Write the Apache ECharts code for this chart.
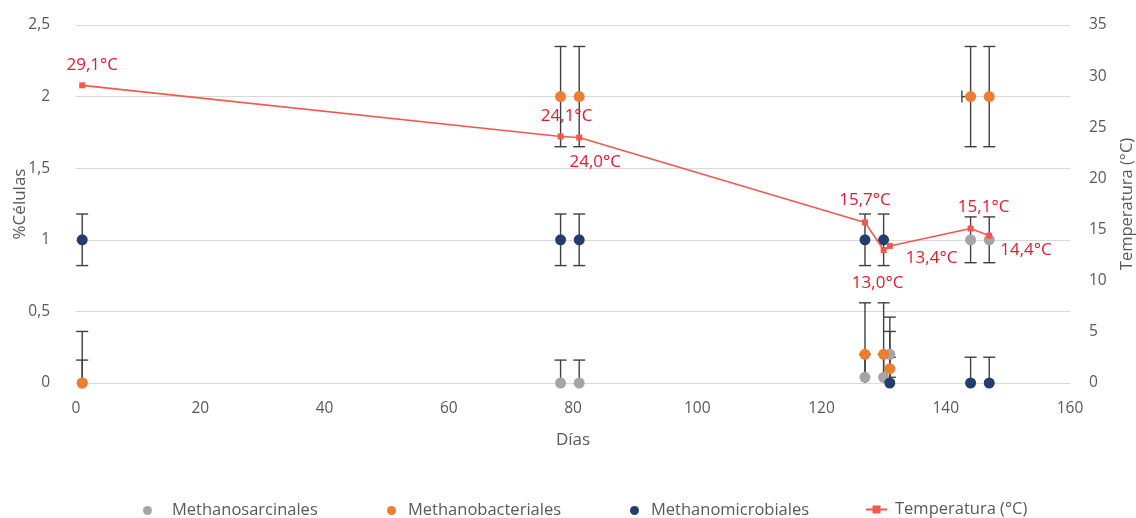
<!DOCTYPE html>
<html>
<head>
<meta charset="utf-8">
<script src="https://cdn.jsdelivr.net/npm/echarts@6/dist/echarts.min.js"></script>
<style>
  html, body { margin: 0; padding: 0; background: #ffffff; }
  #chart { width: 1136px; height: 518px; }
</style>
</head>
<body>
<div id="chart"></div>
<script>
// Sampling days
const dias = [1, 78, 81, 127, 130, 131, 144, 147];

// % of cells per order, with standard deviations
const sarcinales      = [0, 0, 0, 0.04, 0.04, 0.2, 1, 1];
const sarcinalesErr   = [0.16, 0.16, 0.16, 0.16, 0.16, 0.16, 0.16, 0.16];
const bacteriales     = [0, 2, 2, 0.2, 0.2, 0.1, 2, 2];
const bacterialesErr  = [0.36, 0.35, 0.35, 0.36, 0.36, 0.36, 0.35, 0.35];
const bacterialesErrX = [0, 0, 0, 0, 0, 0, 1.4, 0];
const microbiales     = [1, 1, 1, 1, 1, 0, 0, 0];
const microbialesErr  = [0.18, 0.18, 0.18, 0.18, 0.18, 0.18, 0.18, 0.18];

// Temperature (°C)
const temperatura = [29.1, 24.1, 24.0, 15.7, 13.0, 13.4, 15.1, 14.4];

// Axis ticks
const xTicks = { min: 0, max: 160, interval: 20 };
const yLeftTicks = { min: 0, max: 2.5, interval: 0.5 };
const yRightTicks = { min: 0, max: 35, interval: 5 };

const FONT = '"Open Sans", "DejaVu Sans", sans-serif';
const AXIS_TEXT = '#595959';
const GRID_LINE = '#d9d9d9';
const ERR_COLOR = '#404040';
const RED_LINE = '#f2584f';
const RED_TEXT = '#e8192c';

const C_SARC = '#a5a5a5';
const C_BACT = '#ed7d31';
const C_MICRO = '#233e6e';

const comma = v => String(v).replace('.', ',');

// Placement of each temperature label around its point
const tempLabelPlacement = [
  { position: 'top', distance: 9, offset: [10, 0] },
  { position: 'top', distance: 9, offset: [6, 0] },
  { position: 'bottom', distance: 9, offset: [16, 4] },
  { position: 'top', distance: 11, offset: [0, 0] },
  { position: 'bottom', distance: 9, offset: [-6, 13] },
  { position: 'right', distance: 13, offset: [0, 12] },
  { position: 'top', distance: 10, offset: [13, 0] },
  { position: 'right', distance: 8, offset: [0, 14] }
];

function errRows(ys, errs, xerrs) {
  return dias.map((d, i) => [d, ys[i], errs[i], xerrs ? xerrs[i] : 0]);
}

// Error bar drawing: vertical bar with caps, clipped to the left axis range
function renderErrorBar(params, api) {
  const x = api.value(0);
  const y = api.value(1);
  const e = api.value(2);
  const ex = api.value(3);
  const lo = y - e, hi = y + e;
  const yMin = yLeftTicks.min, yMax = yLeftTicks.max;
  const cap = 6;
  const children = [];
  const style = { stroke: ERR_COLOR, lineWidth: 1.4 };
  const loC = Math.max(lo, yMin), hiC = Math.min(hi, yMax);
  const pLo = api.coord([x, loC]);
  const pHi = api.coord([x, hiC]);
  children.push({ type: 'line', shape: { x1: pLo[0], y1: pLo[1], x2: pHi[0], y2: pHi[1] }, style });
  if (hi <= yMax) {
    children.push({ type: 'line', shape: { x1: pHi[0] - cap, y1: pHi[1], x2: pHi[0] + cap, y2: pHi[1] }, style });
  }
  if (lo >= yMin) {
    children.push({ type: 'line', shape: { x1: pLo[0] - cap, y1: pLo[1], x2: pLo[0] + cap, y2: pLo[1] }, style });
  }
  if (ex > 0) {
    const pC = api.coord([x, y]);
    const pL = api.coord([x - ex, y]);
    children.push({ type: 'line', shape: { x1: pL[0], y1: pC[1], x2: pC[0], y2: pC[1] }, style });
    children.push({ type: 'line', shape: { x1: pL[0], y1: pC[1] - cap, x2: pL[0], y2: pC[1] + cap }, style });
  }
  return { type: 'group', children };
}

function errorSeries(ys, errs, xerrs) {
  return {
    type: 'custom',
    xAxisIndex: 0,
    yAxisIndex: 0,
    renderItem: renderErrorBar,
    data: errRows(ys, errs, xerrs),
    z: 1,
    silent: true,
    clip: false,
    encode: { x: 0, y: 1 }
  };
}

function scatterSeries(name, ys, color) {
  return {
    name,
    type: 'scatter',
    yAxisIndex: 0,
    data: dias.map((d, i) => [d, ys[i]]),
    symbol: 'circle',
    symbolSize: 11,
    itemStyle: { color, opacity: 1 },
    z: 2
  };
}

const legendText = { color: AXIS_TEXT, fontFamily: FONT, fontSize: 16.5 };

const option = {
  animation: false,
  backgroundColor: '#ffffff',
  grid: { left: 76, right: 66, top: 25, bottom: 135, containLabel: false, outerBoundsMode: 'none' },
  legend: [
    { data: ['Methanosarcinales'], left: 138, top: 497, icon: 'circle', itemWidth: 9, itemHeight: 9,
      textStyle: Object.assign({ padding: [0, 0, 0, 15] }, legendText) },
    { data: ['Methanobacteriales'], left: 382, top: 497, icon: 'circle', itemWidth: 9, itemHeight: 9,
      textStyle: Object.assign({ padding: [0, 0, 0, 7] }, legendText) },
    { data: ['Methanomicrobiales'], left: 625, top: 497, icon: 'circle', itemWidth: 9, itemHeight: 9,
      textStyle: Object.assign({ padding: [0, 0, 0, 7] }, legendText) },
    { data: ['Temperatura (°C)'], left: 860, top: 496, itemWidth: 21, itemHeight: 10,
      textStyle: Object.assign({ padding: [0, 0, 0, 3] }, legendText) }
  ],
  xAxis: {
    type: 'value',
    min: xTicks.min, max: xTicks.max, interval: xTicks.interval,
    name: 'Días',
    nameLocation: 'middle',
    nameGap: 49,
    nameMoveOverlap: false,
    nameTextStyle: { color: AXIS_TEXT, fontFamily: FONT, fontSize: 17 },
    axisLine: { show: true, lineStyle: { color: GRID_LINE, width: 1 } },
    axisTick: { show: false },
    splitLine: { show: false },
    axisLabel: { color: AXIS_TEXT, fontFamily: FONT, fontSize: 15.5, margin: 18 }
  },
  yAxis: [
    {
      type: 'value',
      min: yLeftTicks.min, max: yLeftTicks.max, interval: yLeftTicks.interval,
      name: '%Células',
      nameLocation: 'middle',
      nameGap: 47,
      nameRotate: 90,
      nameMoveOverlap: false,
      nameTextStyle: { color: AXIS_TEXT, fontFamily: FONT, fontSize: 17 },
      axisLine: { show: false },
      axisTick: { show: false },
      splitLine: { show: true, lineStyle: { color: GRID_LINE, width: 1 } },
      axisLabel: { color: AXIS_TEXT, fontFamily: FONT, fontSize: 15.5, margin: 26, formatter: comma }
    },
    {
      type: 'value',
      position: 'right',
      min: yRightTicks.min, max: yRightTicks.max, interval: yRightTicks.interval,
      name: 'Temperatura (°C)',
      nameLocation: 'middle',
      nameGap: 49,
      nameRotate: 90,
      nameTextStyle: { color: AXIS_TEXT, fontFamily: FONT, fontSize: 16.5 },
      axisLine: { show: false },
      axisTick: { show: false },
      splitLine: { show: false },
      axisLabel: { color: AXIS_TEXT, fontFamily: FONT, fontSize: 15.5, margin: 19 }
    }
  ],
  series: [
    errorSeries(sarcinales, sarcinalesErr),
    errorSeries(bacteriales, bacterialesErr, bacterialesErrX),
    errorSeries(microbiales, microbialesErr),
    scatterSeries('Methanosarcinales', sarcinales, C_SARC),
    scatterSeries('Methanobacteriales', bacteriales, C_BACT),
    scatterSeries('Methanomicrobiales', microbiales, C_MICRO),
    {
      name: 'Temperatura (°C)',
      type: 'line',
      yAxisIndex: 1,
      data: dias.map((d, i) => ({
        value: [d, temperatura[i]],
        label: tempLabelPlacement[i]
      })),
      symbol: 'rect',
      symbolSize: 6,
      lineStyle: { color: RED_LINE, width: 1.6 },
      itemStyle: { color: RED_LINE },
      z: 3,
      label: {
        show: true,
        color: RED_TEXT,
        fontFamily: FONT,
        fontSize: 17,
        formatter: p => comma(p.value[1].toFixed(1)) + '°C'
      }
    }
  ]
};

const chart = echarts.init(document.getElementById('chart'), null, { renderer: 'canvas' });
chart.setOption(option);
</script>
</body>
</html>
